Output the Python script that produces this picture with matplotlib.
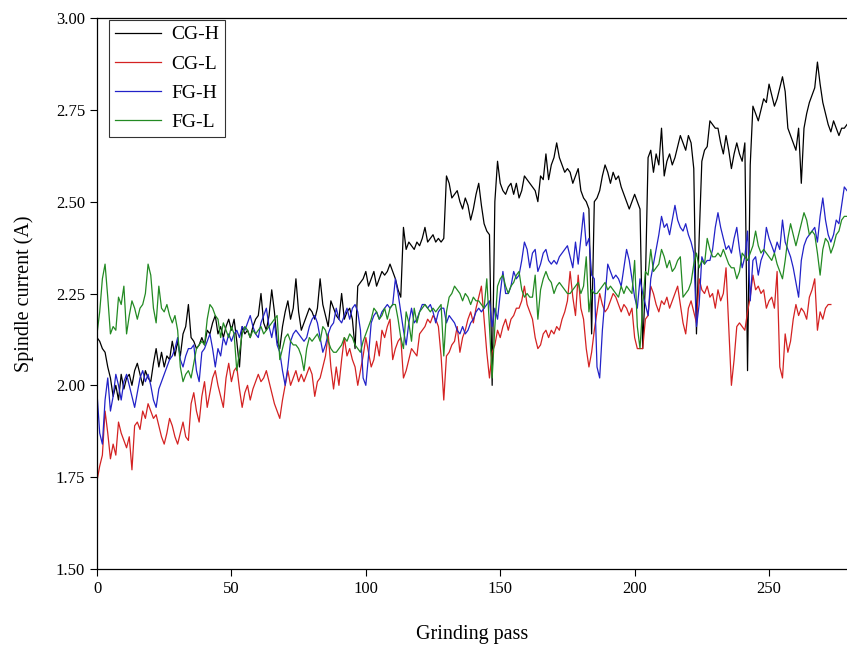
import matplotlib
matplotlib.use("Agg")
import matplotlib.pyplot as plt
import numpy as np

# Spindle current per grinding pass for the four grinding conditions
cg_h = [
    2.13, 2.12, 2.10, 2.09, 2.05, 2.02, 1.97, 2.00, 1.96, 2.03,
    1.99, 2.02, 2.03, 2.00, 2.04, 2.06, 2.03, 2.00, 2.04, 2.02,
    2.01, 2.06, 2.10, 2.05, 2.09, 2.05, 2.08, 2.07, 2.12, 2.08,
    2.12, 2.08, 2.14, 2.16, 2.22, 2.13, 2.12, 2.10, 2.11, 2.13,
    2.11, 2.15, 2.14, 2.17, 2.19, 2.14, 2.16, 2.13, 2.16, 2.18,
    2.15, 2.18, 2.12, 2.05, 2.16, 2.14, 2.15, 2.13, 2.16, 2.18,
    2.19, 2.25, 2.17, 2.15, 2.19, 2.26, 2.20, 2.12, 2.10, 2.16,
    2.20, 2.23, 2.18, 2.21, 2.29, 2.20, 2.15, 2.17, 2.19, 2.21,
    2.20, 2.18, 2.21, 2.29, 2.22, 2.19, 2.16, 2.23, 2.21, 2.19,
    2.18, 2.25, 2.18, 2.20, 2.21, 2.18, 2.10, 2.27, 2.28, 2.29,
    2.31, 2.27, 2.29, 2.31, 2.27, 2.29, 2.31, 2.30, 2.31, 2.33,
    2.31, 2.29, 2.26, 2.24, 2.43, 2.37, 2.39, 2.38, 2.37, 2.39,
    2.38, 2.40, 2.43, 2.39, 2.40, 2.41, 2.39, 2.40, 2.39, 2.40,
    2.57, 2.55, 2.51, 2.52, 2.53, 2.50, 2.48, 2.51, 2.49, 2.45,
    2.48, 2.52, 2.55, 2.49, 2.44, 2.42, 2.41, 2.00, 2.50, 2.61,
    2.55, 2.53, 2.52, 2.54, 2.55, 2.52, 2.55, 2.51, 2.53, 2.57,
    2.56, 2.55, 2.54, 2.53, 2.50, 2.57, 2.56, 2.63, 2.56, 2.60,
    2.62, 2.66, 2.62, 2.60, 2.58, 2.59, 2.58, 2.55, 2.57, 2.59,
    2.53, 2.51, 2.50, 2.48, 2.14, 2.50, 2.51, 2.53, 2.57, 2.60,
    2.58, 2.55, 2.58, 2.56, 2.57, 2.54, 2.52, 2.50, 2.48, 2.50,
    2.52, 2.50, 2.48, 2.10, 2.28, 2.62, 2.64, 2.58, 2.63, 2.60,
    2.70, 2.57, 2.61, 2.63, 2.60, 2.62, 2.65, 2.68, 2.66, 2.64,
    2.68, 2.66, 2.59, 2.14, 2.40, 2.61, 2.64, 2.65, 2.72, 2.71,
    2.70, 2.70, 2.66, 2.63, 2.68, 2.64, 2.59, 2.63, 2.66, 2.63,
    2.61, 2.66, 2.04, 2.60, 2.76, 2.74, 2.72, 2.75, 2.78, 2.77,
    2.82, 2.79, 2.76, 2.78, 2.81, 2.84, 2.80, 2.70, 2.68, 2.66,
    2.64, 2.70, 2.55, 2.70, 2.74, 2.77, 2.79, 2.81, 2.88, 2.82,
    2.77, 2.74, 2.71, 2.69, 2.72, 2.70, 2.68, 2.70, 2.70, 2.71,
]

cg_l = [
    1.74, 1.78, 1.81, 1.93, 1.87, 1.80, 1.84, 1.81, 1.90, 1.87,
    1.85, 1.83, 1.86, 1.77, 1.89, 1.90, 1.88, 1.93, 1.91, 1.95,
    1.93, 1.91, 1.92, 1.89, 1.86, 1.84, 1.87, 1.91, 1.89, 1.86,
    1.84, 1.87, 1.90, 1.86, 1.85, 1.95, 1.98, 1.93, 1.90, 1.97,
    2.01, 1.94, 1.98, 2.02, 2.04, 2.00, 1.97, 1.94, 2.02, 2.06,
    2.01, 2.04, 2.05, 1.99, 1.94, 1.98, 2.00, 1.96, 1.99, 2.01,
    2.03, 2.01, 2.02, 2.04, 2.01, 1.98, 1.95, 1.93, 1.91, 1.96,
    2.00, 2.04, 2.00, 2.02, 2.04, 2.01, 2.03, 2.01, 2.03, 2.05,
    2.03, 1.97, 2.01, 2.02, 2.05, 2.08, 2.14, 2.05, 1.99, 2.05,
    2.00, 2.07, 2.13, 2.08, 2.10, 2.07, 2.05, 2.00, 2.04, 2.08,
    2.13, 2.09, 2.05, 2.07, 2.12, 2.08, 2.15, 2.13, 2.16, 2.18,
    2.07, 2.10, 2.12, 2.13, 2.02, 2.04, 2.07, 2.10, 2.09, 2.08,
    2.14, 2.15, 2.16, 2.18, 2.17, 2.19, 2.18, 2.16, 2.08, 1.96,
    2.08, 2.09, 2.11, 2.12, 2.16, 2.09, 2.13, 2.15, 2.18, 2.20,
    2.17, 2.21, 2.24, 2.27, 2.18, 2.09, 2.02, 2.09, 2.11, 2.15,
    2.13, 2.16, 2.18, 2.15, 2.18, 2.19, 2.21, 2.21, 2.23, 2.27,
    2.22, 2.20, 2.18, 2.13, 2.10, 2.11, 2.14, 2.15, 2.13, 2.15,
    2.14, 2.16, 2.15, 2.18, 2.20, 2.23, 2.31, 2.24, 2.19, 2.30,
    2.21, 2.18, 2.10, 2.05, 2.09, 2.15, 2.20, 2.25, 2.22, 2.20,
    2.21, 2.23, 2.25, 2.24, 2.22, 2.20, 2.22, 2.21, 2.19, 2.21,
    2.13, 2.10, 2.10, 2.10, 2.18, 2.19, 2.27, 2.25, 2.22, 2.20,
    2.23, 2.22, 2.24, 2.21, 2.23, 2.25, 2.27, 2.22, 2.17, 2.14,
    2.21, 2.23, 2.20, 2.17, 2.29, 2.26, 2.25, 2.27, 2.24, 2.25,
    2.21, 2.26, 2.23, 2.25, 2.32, 2.16, 2.00, 2.07, 2.16, 2.17,
    2.16, 2.15, 2.20, 2.24, 2.30, 2.26, 2.27, 2.25, 2.26, 2.21,
    2.23, 2.24, 2.21, 2.31, 2.05, 2.02, 2.14, 2.09, 2.12, 2.18,
    2.22, 2.19, 2.21, 2.20, 2.18, 2.24, 2.26, 2.29, 2.15, 2.20,
    2.18, 2.21, 2.22, 2.22,
]

fg_h = [
    1.98, 1.87, 1.84, 1.96, 2.02, 1.93, 1.97, 2.03, 2.00, 1.96,
    2.01, 2.03, 2.00, 1.97, 1.94, 1.98, 2.02, 2.04, 2.01, 2.03,
    2.00, 1.96, 1.94, 1.99, 2.01, 2.03, 2.05, 2.07, 2.08, 2.10,
    2.13, 2.07, 2.05, 2.08, 2.10, 2.10, 2.11, 2.04, 2.01, 2.09,
    2.10, 2.12, 2.14, 2.10, 2.05, 2.10, 2.08, 2.13, 2.11, 2.14,
    2.12, 2.14, 2.15, 2.13, 2.16, 2.15, 2.17, 2.19, 2.16, 2.14,
    2.13, 2.17, 2.19, 2.21, 2.16, 2.13, 2.17, 2.11, 2.09, 2.04,
    2.00, 2.05, 2.12, 2.14, 2.15, 2.14, 2.13, 2.12, 2.13, 2.16,
    2.18, 2.19, 2.17, 2.13, 2.09, 2.11, 2.14, 2.16, 2.17, 2.21,
    2.18, 2.17, 2.19, 2.21, 2.18, 2.21, 2.22, 2.20, 2.15, 2.02,
    2.00, 2.08, 2.17, 2.19, 2.20, 2.18, 2.20, 2.21, 2.22, 2.21,
    2.22, 2.29, 2.25, 2.20, 2.15, 2.11, 2.17, 2.21, 2.17, 2.18,
    2.20, 2.22, 2.22, 2.21, 2.22, 2.20, 2.17, 2.20, 2.21, 2.21,
    2.17, 2.19, 2.18, 2.17, 2.15, 2.14, 2.16, 2.14, 2.15, 2.17,
    2.18, 2.20, 2.21, 2.20, 2.21, 2.22, 2.23, 2.16, 2.21, 2.18,
    2.25, 2.31, 2.25, 2.25, 2.27, 2.31, 2.29, 2.30, 2.34, 2.39,
    2.37, 2.32, 2.36, 2.37, 2.31, 2.33, 2.36, 2.37, 2.34, 2.33,
    2.34, 2.33, 2.35, 2.36, 2.37, 2.38, 2.35, 2.32, 2.39, 2.33,
    2.40, 2.47, 2.38, 2.40, 2.30, 2.29, 2.05, 2.02, 2.15, 2.24,
    2.33, 2.31, 2.29, 2.30, 2.29, 2.27, 2.32, 2.37, 2.34, 2.29,
    2.24, 2.21, 2.29, 2.25, 2.22, 2.19, 2.29, 2.33, 2.37, 2.41,
    2.46, 2.43, 2.44, 2.41, 2.45, 2.49, 2.45, 2.43, 2.42, 2.44,
    2.41, 2.39, 2.36, 2.16, 2.22, 2.35, 2.33, 2.34, 2.34, 2.37,
    2.43, 2.47, 2.43, 2.40, 2.37, 2.38, 2.36, 2.40, 2.43, 2.37,
    2.32, 2.35, 2.42, 2.23, 2.34, 2.35, 2.30, 2.34, 2.36, 2.43,
    2.40, 2.38, 2.36, 2.39, 2.37, 2.45, 2.39, 2.37, 2.35, 2.32,
    2.28, 2.24, 2.34, 2.38, 2.40, 2.41, 2.42, 2.43, 2.39, 2.46,
    2.51, 2.45, 2.41, 2.39, 2.41, 2.45, 2.44, 2.49, 2.54, 2.53,
]

fg_l = [
    2.14, 2.20, 2.29, 2.33, 2.24, 2.14, 2.16, 2.15, 2.24, 2.22,
    2.27, 2.14, 2.19, 2.23, 2.21, 2.18, 2.21, 2.22, 2.25, 2.33,
    2.30, 2.21, 2.17, 2.27, 2.21, 2.20, 2.22, 2.19, 2.17, 2.19,
    2.15, 2.05, 2.01, 2.03, 2.04, 2.02, 2.06, 2.10, 2.11, 2.12,
    2.11, 2.18, 2.22, 2.21, 2.19, 2.18, 2.13, 2.17, 2.15, 2.13,
    2.16, 2.14, 2.04, 2.09, 2.14, 2.16, 2.15, 2.13, 2.15, 2.14,
    2.15, 2.16, 2.14, 2.15, 2.16, 2.17, 2.18, 2.19, 2.07, 2.10,
    2.13, 2.14, 2.12, 2.11, 2.11, 2.10, 2.08, 2.04, 2.10, 2.13,
    2.12, 2.13, 2.14, 2.12, 2.16, 2.15, 2.12, 2.10, 2.09, 2.09,
    2.10, 2.11, 2.13, 2.12, 2.14, 2.13, 2.11, 2.10, 2.09, 2.12,
    2.14, 2.16, 2.18, 2.21, 2.20, 2.18, 2.19, 2.21, 2.18, 2.21,
    2.22, 2.22, 2.18, 2.13, 2.10, 2.20, 2.17, 2.12, 2.21, 2.17,
    2.20, 2.21, 2.22, 2.21, 2.20, 2.21, 2.20, 2.21, 2.22, 2.08,
    2.20, 2.24, 2.25, 2.27, 2.26, 2.25, 2.23, 2.25, 2.24, 2.22,
    2.24, 2.23, 2.23, 2.22, 2.21, 2.29, 2.16, 2.02, 2.16, 2.27,
    2.29, 2.30, 2.27, 2.25, 2.27, 2.28, 2.30, 2.31, 2.26, 2.24,
    2.25, 2.24, 2.24, 2.30, 2.18, 2.26, 2.29, 2.31, 2.29, 2.28,
    2.25, 2.27, 2.28, 2.27, 2.26, 2.25, 2.25, 2.26, 2.27, 2.28,
    2.25, 2.27, 2.35, 2.20, 2.26, 2.25, 2.25, 2.26, 2.27, 2.28,
    2.26, 2.27, 2.26, 2.25, 2.24, 2.27, 2.25, 2.27, 2.26, 2.25,
    2.34, 2.16, 2.10, 2.22, 2.31, 2.30, 2.37, 2.31, 2.32, 2.33,
    2.37, 2.35, 2.32, 2.34, 2.31, 2.32, 2.34, 2.35, 2.24, 2.25,
    2.26, 2.28, 2.33, 2.36, 2.32, 2.34, 2.33, 2.40, 2.37, 2.35,
    2.35, 2.36, 2.35, 2.37, 2.35, 2.33, 2.32, 2.32, 2.29, 2.31,
    2.36, 2.35, 2.34, 2.36, 2.38, 2.42, 2.38, 2.36, 2.37, 2.36,
    2.35, 2.34, 2.36, 2.33, 2.31, 2.29, 2.34, 2.40, 2.44, 2.41,
    2.38, 2.41, 2.44, 2.47, 2.45, 2.41, 2.42, 2.41, 2.36, 2.30,
    2.37, 2.40, 2.39, 2.36, 2.38, 2.41, 2.42, 2.45, 2.46, 2.46,
]

series_names = ["CG-H", "CG-L", "FG-H", "FG-L"]
series_values = [cg_h, cg_l, fg_h, fg_l]
series_colors = ["#000000", "#d42222", "#2222c8", "#238a23"]

x_ticks = [0, 50, 100, 150, 200, 250]
y_ticks = [1.50, 1.75, 2.00, 2.25, 2.50, 2.75, 3.00]

plt.rcParams["font.family"] = ["Liberation Serif", "DejaVu Serif"]

fig = plt.figure(figsize=(8.47, 6.47), dpi=100)
ax = fig.add_axes([97 / 847, 1 - 569 / 647, 1 - 97 / 847, (569 - 18) / 647])

for name, vals, col in zip(series_names, series_values, series_colors):
    passes = np.arange(len(vals))
    ax.plot(passes, vals, color=col, linewidth=0.9, label=name)

ax.set_xlim(0, 279)
ax.set_ylim(1.5, 3.0)
ax.set_xticks(x_ticks)
ax.set_yticks(y_ticks)
ax.set_yticklabels([f"{t:.2f}" for t in y_ticks])
ax.tick_params(direction="out", length=5, width=0.8, labelsize=12)

ax.set_xlabel("Grinding pass", fontsize=14.5, labelpad=20)
ax.set_ylabel("Spindle current (A)", fontsize=14.5, labelpad=16)

for side in ["left", "bottom", "top"]:
    ax.spines[side].set_linewidth(0.9)
ax.spines["right"].set_visible(False)

leg = ax.legend(loc="upper left", bbox_to_anchor=(0.013, 1.0), fontsize=14,
                frameon=True, fancybox=False, edgecolor="black",
                handlelength=2.4, borderpad=0.3, labelspacing=0.6,
                handletextpad=0.5, borderaxespad=0.1)
leg.get_frame().set_linewidth(0.8)

fig.savefig("out.png", dpi=100)
